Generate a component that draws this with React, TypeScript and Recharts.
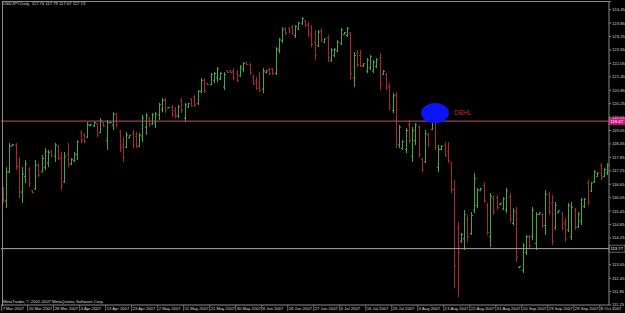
import React from "react";
import { ComposedChart, Bar, XAxis, YAxis, ReferenceLine, ReferenceDot } from "recharts";

// USDJPY daily, 187 bars (Mar - Oct 2007)
const highs = [
  116.52, 117.41, 118.49, 118.44, 118.49, 117.86, 117.41, 117.73, 117.41, 116.39,
  117.73, 117.59, 117.95, 118.26, 118.18, 118.18, 118.49, 118.4, 118.09, 118.09,
  118.49, 117.82, 118.09, 118.62, 119.07, 118.94, 119.43, 119.34, 119.43, 119.38,
  119.61, 119.43, 119.52, 119.43, 119.87, 119.83, 119.07, 118.76, 118.98, 118.85,
  119.07, 118.98, 118.94, 119.74, 119.83, 119.65, 119.83, 119.87, 120.28, 120.5,
  120.5, 120.1, 120.19, 120.1, 120.19, 120.5, 120.28, 120.28, 120.5, 120.63,
  120.86, 121.39, 121.39, 121.17, 121.62, 121.66, 121.89, 121.66, 121.66, 121.75,
  121.75, 121.84, 121.75, 121.97, 122.11, 122.11, 122.06, 121.53, 121.44, 121.66,
  121.84, 121.75, 121.84, 121.84, 122.78, 123.18, 123.67, 123.67, 123.67, 123.76,
  123.76, 123.9, 124.12, 123.99, 123.9, 123.76, 123.54, 123.54, 123.63, 123.18,
  123.32, 122.73, 122.73, 123.09, 123.63, 123.45, 123.67, 123.45, 122.56, 122.65,
  122.65, 122.06, 122.29, 122.42, 122.2, 122.29, 122.51, 121.75, 121.62, 121.17,
  120.72, 120.77, 119.29, 118.62, 119.16, 119.52, 119.2, 119.38, 119.29, 117.82,
  119.07, 118.94, 119.83, 119.83, 118.4, 118.4, 118.53, 118.53, 117.64, 116.84,
  114.96, 114.47, 115.49, 115.27, 115.4, 117.15, 116.48, 116.48, 116.74, 115.81,
  116.25, 116.16, 116.16, 115.81, 116.07, 116.48, 116.25, 115.58, 115.63, 112.99,
  114.02, 114.38, 114.38, 115.63, 115.4, 115.4, 115.36, 116.39, 116.3, 116.16,
  115.85, 115.49, 115.4, 115.13, 115.81, 115.85, 115.58, 115.4, 116.03, 116.03,
  116.84, 116.75, 117.28, 117.19, 117.59, 117.37, 117.59,
];

const lows = [
  115.81, 115.58, 117.15, 118.35, 117.28, 116.03, 115.81, 116.7, 116.52, 116.25,
  116.39, 116.97, 117.19, 117.28, 117.41, 117.86, 117.64, 117.73, 116.39, 116.7,
  117.41, 117.5, 117.64, 117.73, 118.49, 118.49, 118.71, 119.25, 119.2, 118.76,
  118.94, 119.2, 118.18, 119.38, 119.07, 119.2, 118.09, 117.64, 118.26, 118.71,
  118.26, 118.26, 118.31, 118.53, 118.85, 119.2, 119.29, 119.16, 119.52, 119.87,
  119.83, 120.05, 119.65, 119.61, 119.61, 119.83, 119.43, 120.05, 120.1, 120.1,
  120.19, 120.72, 120.72, 121.08, 121.08, 121.17, 121.21, 121.3, 120.86, 121.62,
  121.62, 121.3, 121.21, 121.44, 121.66, 121.97, 121.53, 121.08, 120.86, 120.77,
  120.72, 121.62, 121.53, 121.53, 121.53, 122.51, 122.96, 123.32, 123.41, 123.32,
  123.18, 123.54, 123.76, 123.67, 123.23, 122.78, 122.2, 122.78, 123.0, 122.96,
  122.11, 122.11, 122.33, 122.56, 122.87, 123.32, 123.23, 121.3, 120.99, 121.89,
  121.89, 121.89, 121.62, 121.75, 121.62, 121.84, 120.86, 121.53, 120.86, 119.96,
  119.83, 118.26, 118.26, 118.18, 118.04, 118.49, 117.64, 118.4, 117.86, 117.19,
  117.59, 118.31, 119.07, 118.18, 117.19, 118.18, 117.86, 117.59, 116.25, 112.01,
  111.6, 114.02, 113.71, 114.06, 114.38, 115.36, 115.58, 116.34, 115.81, 114.38,
  113.84, 115.27, 115.49, 115.72, 115.49, 115.36, 114.96, 114.82, 113.17, 112.9,
  112.68, 113.48, 113.79, 114.15, 113.71, 115.27, 114.69, 114.38, 115.27, 113.93,
  114.6, 115.36, 114.6, 114.06, 114.51, 114.15, 114.6, 114.69, 114.82, 115.58,
  115.72, 116.3, 116.7, 116.97, 116.84, 116.97, 117.06,
];

const opens = [
  116.4, 115.9, 117.2, 118.36, 118.4, 117.45, 116.3, 117.0, 117.3, 116.38,
  116.45, 117.5, 117.2, 117.4, 117.6, 118.1, 117.9, 118.35, 117.85, 116.75,
  118.0, 117.55, 117.7, 117.95, 118.95, 118.85, 118.75, 119.27, 119.25, 119.35,
  118.95, 119.4, 118.6, 119.39, 119.3, 119.75, 119.0, 118.4, 118.3, 118.72,
  118.9, 118.8, 118.35, 118.8, 119.2, 119.6, 119.35, 119.4, 119.75, 120.0,
  120.4, 120.06, 120.1, 119.95, 119.7, 120.4, 119.6, 120.1, 120.45, 120.55,
  120.25, 120.8, 121.3, 121.15, 121.1, 121.3, 121.4, 121.35, 121.0, 121.72,
  121.73, 121.7, 121.6, 121.5, 121.8, 122.08, 122.0, 121.45, 121.25, 121.2,
  120.9, 121.64, 121.78, 121.8, 121.6, 122.65, 123.05, 123.6, 123.6, 123.65,
  123.3, 123.6, 123.85, 123.95, 123.8, 123.4, 123.0, 122.85, 123.5, 123.0,
  123.2, 122.2, 122.4, 122.6, 122.95, 123.34, 123.3, 123.4, 121.4, 122.5,
  122.4, 121.92, 121.7, 121.85, 121.7, 121.9, 122.3, 121.56, 121.55, 121.0,
  119.95, 120.6, 118.4, 118.25, 118.2, 119.3, 117.9, 118.6, 119.2, 117.75,
  117.65, 118.85, 119.1, 119.7, 117.4, 118.2, 118.4, 118.1, 117.55, 116.4,
  114.7, 114.1, 114.2, 115.1, 114.45, 115.5, 115.7, 116.36, 116.6, 115.7,
  114.3, 116.0, 116.05, 115.74, 115.55, 115.5, 116.1, 114.9, 115.4, 112.92,
  112.8, 113.6, 114.3, 114.3, 114.0, 115.29, 115.3, 114.8, 116.2, 115.8,
  114.7, 115.38, 115.35, 114.9, 114.6, 114.3, 115.5, 114.75, 115.0, 115.65,
  116.7, 116.35, 116.75, 117.0, 117.5, 117.0, 117.15,
];

const closes = [
  115.95, 117.2, 118.35, 118.42, 117.45, 116.3, 117.1, 117.55, 116.7, 116.28,
  117.5, 117.05, 117.8, 118.1, 118.05, 117.92, 118.4, 117.8, 116.6, 117.9,
  117.55, 117.75, 118.0, 118.55, 118.6, 118.55, 119.3, 119.32, 119.4, 118.85,
  119.5, 119.25, 119.4, 119.42, 119.8, 119.3, 118.3, 117.85, 118.85, 118.82,
  118.4, 118.35, 118.85, 119.6, 119.7, 119.3, 119.75, 119.8, 120.2, 120.4,
  119.95, 120.09, 119.75, 119.7, 120.1, 119.95, 120.2, 120.25, 120.15, 120.2,
  120.8, 121.3, 120.85, 121.1, 121.55, 121.6, 121.8, 121.6, 121.55, 121.65,
  121.64, 121.4, 121.3, 121.9, 122.05, 122.0, 121.65, 121.15, 120.95, 120.85,
  121.7, 121.72, 121.58, 121.6, 122.7, 123.1, 123.55, 123.4, 123.45, 123.4,
  123.7, 123.85, 124.05, 123.75, 123.35, 122.9, 122.4, 123.45, 123.1, 123.15,
  122.3, 122.65, 122.68, 123.0, 123.55, 123.43, 123.6, 121.6, 122.4, 122.0,
  121.95, 122.03, 122.2, 122.35, 122.1, 122.2, 121.1, 121.7, 120.95, 120.1,
  120.6, 118.45, 119.2, 118.55, 119.05, 118.6, 119.05, 119.3, 118.0, 117.3,
  118.9, 118.45, 119.7, 118.3, 118.2, 118.35, 117.95, 117.7, 116.4, 113.0,
  113.6, 114.4, 115.3, 114.3, 115.25, 116.9, 116.4, 116.45, 115.9, 114.5,
  116.1, 115.4, 115.6, 115.8, 116.0, 116.35, 115.1, 115.45, 113.4, 112.98,
  113.9, 114.3, 113.9, 115.5, 115.3, 115.38, 114.8, 116.2, 115.4, 114.1,
  115.7, 115.46, 114.7, 114.2, 115.7, 115.6, 114.7, 115.3, 115.95, 115.98,
  115.85, 116.7, 117.2, 117.15, 116.95, 117.3, 117.5,
];

// one label every 8 bars
const dateLabels = [
  "7 Mar 2007", "16 Mar 2007", "28 Mar 2007", "4 Apr 2007", "13 Apr 2007", "23 Apr 2007",
  "2 May 2007", "11 May 2007", "21 May 2007", "30 May 2007", "8 Jun 2007", "18 Jun 2007",
  "27 Jun 2007", "6 Jul 2007", "16 Jul 2007", "25 Jul 2007", "3 Aug 2007", "13 Aug 2007",
  "22 Aug 2007", "31 Aug 2007", "10 Sep 2007", "19 Sep 2007", "28 Sep 2007", "8 Oct 2007",
];

// 113.65 sits under the support price tag, so it is not drawn
const priceTicks = [
  111.25, 111.85, 112.45, 113.05, 114.25, 114.85, 115.45, 116.05, 116.65, 117.25, 117.85,
  118.45, 119.05, 119.65, 120.25, 120.85, 121.45, 122.05, 122.65, 123.25, 123.85, 124.45,
];

const resistance = 119.47;
const support = 113.77;
const markedBar = 134;
const markedHigh = 119.83;

const UP = "#43a843";
const DOWN = "#a82a2a";
const FONT = "'Liberation Sans', Arial, sans-serif";
const TXT = "#d8d8d8";
const FRAME = "#8a8a8a";

const data = highs.map((high, k) => ({
  i: k + 1,
  open: opens[k],
  high,
  low: lows[k],
  close: closes[k],
}));

function OhlcBar(props: any) {
  const { x, y, width, height, payload } = props;
  const top = Math.min(y, y + height);
  const h = Math.max(Math.abs(height), 1);
  const cx = Math.round(x + width / 2) + 0.5;
  const span = payload.high - payload.low || 1;
  const oy = top + ((payload.high - payload.open) / span) * h;
  const cy = top + ((payload.high - payload.close) / span) * h;
  const color = payload.close >= payload.open ? UP : DOWN;
  return (
    <g>
      <line x1={cx} x2={cx} y1={top} y2={top + h} stroke={color} strokeWidth={1} />
      <line x1={cx - 1.5} x2={cx} y1={oy} y2={oy} stroke={color} strokeWidth={1} />
      <line x1={cx} x2={cx + 1.5} y1={cy} y2={cy} stroke={color} strokeWidth={1} />
    </g>
  );
}

function DateTick(props: any) {
  const { x, payload } = props;
  const label = dateLabels[Math.round((payload.value - 1) / 8)];
  if (!label) return null;
  return (
    <g>
      <line x1={x - 1} x2={x - 1} y1={305} y2={311} stroke={FRAME} strokeWidth={0.8} />
      <text x={x} y={310.2} fill={TXT} fontSize={4.2} fontFamily={FONT}>
        {label}
      </text>
    </g>
  );
}

const priceTag = (value: number, fill: string, stroke: string) => (props: any) => {
  const vb = props.viewBox || {};
  const left = (vb.x ?? 0) + (vb.width ?? 0);
  return (
    <g>
      <rect x={left} y={vb.y - 3.5} width={16} height={7} fill={fill} stroke={stroke} strokeWidth={0.6} />
      <text x={left + 1.5} y={vb.y + 1.5} fill="#ffffff" fontSize={4.2} fontFamily={FONT}>
        {value.toFixed(2)}
      </text>
    </g>
  );
};

export default function App() {
  return (
    <div style={{ position: "relative", width: 625, height: 313, background: "#000" }}>
      <style>{`body{margin:0;background:#000}`}</style>
      <ComposedChart
        width={625}
        height={313}
        data={data}
        margin={{ top: 1, right: 0, bottom: 0, left: 1 }}
        barCategoryGap={0}
      >
        <XAxis
          dataKey="i"
          interval={7}
          height={8}
          axisLine={{ stroke: FRAME }}
          tickLine={false}
          tickSize={0}
          tickMargin={0}
          tick={<DateTick />}
        />
        <YAxis
          orientation="right"
          width={16}
          domain={[111.25, 124.84]}
          allowDataOverflow
          ticks={priceTicks}
          interval={0}
          axisLine={{ stroke: FRAME }}
          tickLine={{ stroke: FRAME }}
          tickSize={2}
          tickMargin={1}
          tick={{ fill: TXT, fontSize: 4.2, fontFamily: FONT }}
          tickFormatter={(v: number) => v.toFixed(2)}
        />
        <ReferenceLine y={resistance} stroke="#b8507a" strokeWidth={1} label={priceTag(resistance, "#d4157f", "#d4157f")} />
        <ReferenceLine y={support} stroke="#a8a8a8" strokeWidth={1} label={priceTag(support, "#000000", "#a8a8a8")} />
        <Bar
          dataKey={(d: any) => [d.low, d.high]}
          shape={<OhlcBar />}
          isAnimationActive={false}
        />
        <ReferenceDot
          x={markedBar}
          y={markedHigh}
          ifOverflow="visible"
          shape={(p: any) => (
            <g>
              <ellipse cx={p.cx} cy={p.cy} rx={14} ry={10} fill="#0a14f5" />
              <text x={p.cx + 19} y={p.cy + 2.2} fill="#c8282e" fontSize={6.5} fontFamily={FONT}>
                DBHL
              </text>
            </g>
          )}
        />
      </ComposedChart>
      <div style={{ position: "absolute", left: 1.5, top: 1, width: 608, height: 304, borderLeft: `1px solid ${FRAME}`, borderTop: `1px solid ${FRAME}`, pointerEvents: "none" }} />
      <div style={{ position: "absolute", left: 3, top: 2, color: TXT, fontSize: 4.2, fontFamily: FONT, whiteSpace: "pre", lineHeight: 1 }}>
        {"USDJPY,Daily  117.76 117.79 117.67 117.73"}
      </div>
      <div style={{ position: "absolute", left: 3, top: 300, color: TXT, fontSize: 4.2, fontFamily: FONT, whiteSpace: "pre", lineHeight: 1 }}>
        {"MetaTrader, © 2001-2007 MetaQuotes Software Corp."}
      </div>
    </div>
  );
}
